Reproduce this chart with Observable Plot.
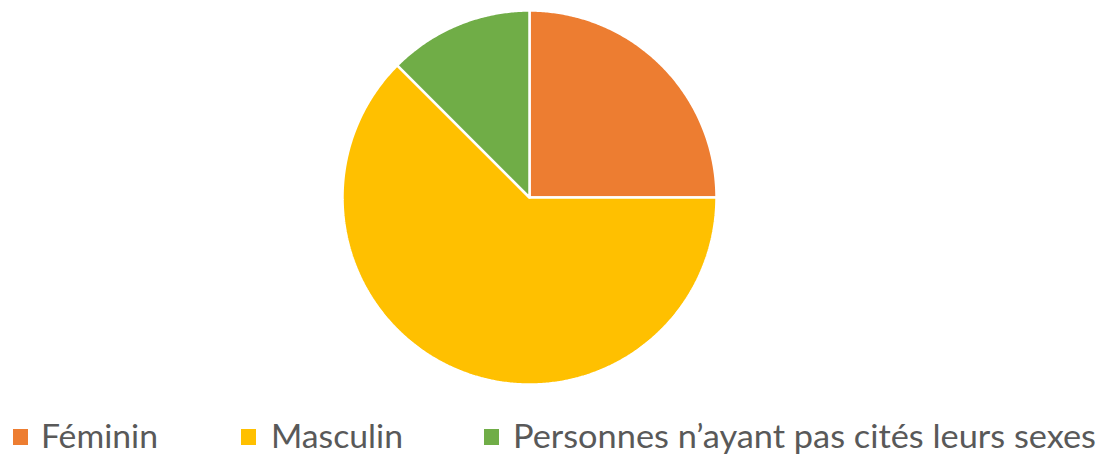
<!DOCTYPE html>
<html>
<head>
<meta charset="utf-8">
<script src="https://cdn.jsdelivr.net/npm/d3@7"></script>
<script src="https://cdn.jsdelivr.net/npm/@observablehq/plot@0.6"></script>
<style>
  html, body { margin: 0; padding: 0; background: #fff; }
  #chart svg { display: block; }
  #legend { display: block; }
</style>
</head>
<body>
<div id="chart"></div>
<svg id="legend" width="1105" height="55"></svg>
<script>
const categories = ["Féminin", "Masculin", "Personnes n’ayant pas cités leurs sexes"];
const values = [2, 5, 1];
const colors = ["#ED7D31", "#FFC000", "#70AD47"];

// slice outlines from d3.pie angles (0 at 12 o'clock, clockwise)
const arcs = d3.pie().sort(null).value(d => d.value)(categories.map((c, i) => ({category: c, value: values[i]})));
const pts = [];
arcs.forEach(a => {
  const c = a.data.category;
  pts.push({category: c, x: 0, y: 0});
  const n = Math.max(2, Math.ceil((a.endAngle - a.startAngle) / (Math.PI / 360)));
  for (let k = 0; k <= n; k++) {
    const t = a.startAngle + (a.endAngle - a.startAngle) * k / n;
    pts.push({category: c, x: Math.sin(t), y: Math.cos(t)});
  }
  pts.push({category: c, x: 0, y: 0});
});

const plot = Plot.plot({
  width: 1105,
  height: 400,
  marginLeft: 342,
  marginRight: 389,
  marginTop: 10,
  marginBottom: 16,
  x: {domain: [-1, 1], axis: null},
  y: {domain: [-1, 1], axis: null},
  color: {domain: categories, range: colors},
  marks: [
    Plot.line(pts, {x: "x", y: "y", z: "category", fill: "category", stroke: "#ffffff", strokeWidth: 2.5, strokeLinejoin: "miter", curve: "linear"})
  ]
});
document.getElementById("chart").appendChild(plot);

// legend
const legendItems = [
  {sq: 13, tx: 41, tw: 117},
  {sq: 241, tx: 271, tw: 132},
  {sq: 484, tx: 513, tw: 583}
];
const leg = d3.select("#legend");
categories.forEach((c, i) => {
  const L = legendItems[i];
  leg.append("rect").attr("x", L.sq).attr("y", 29).attr("width", 15).attr("height", 16).attr("fill", colors[i]);
  leg.append("text").attr("x", L.tx).attr("y", 48)
    .attr("font-family", "Lato, 'Open Sans', sans-serif").attr("font-size", 32)
    .attr("fill", "#595959")
    .attr("textLength", L.tw).attr("lengthAdjust", "spacingAndGlyphs")
    .text(c);
});
</script>
</body>
</html>
